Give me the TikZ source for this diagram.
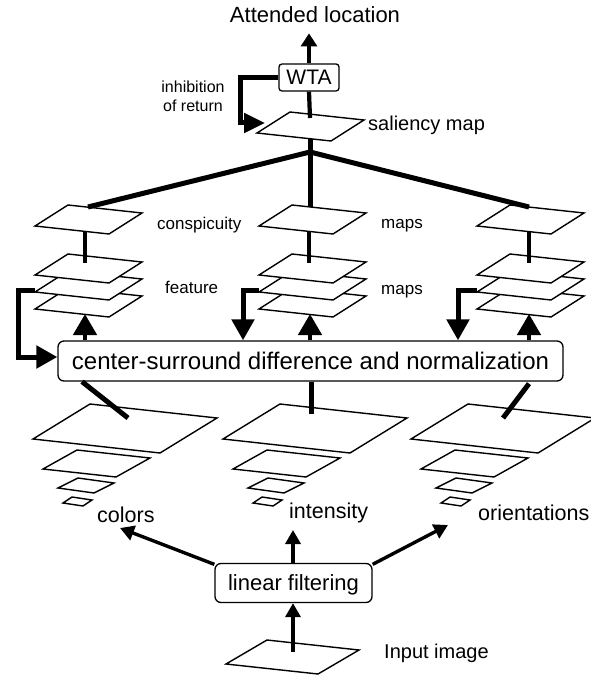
\documentclass[tikz,border=0pt]{standalone}
\usepackage{fontspec}
\setmainfont{Liberation Sans}
\usetikzlibrary{arrows.meta}
\newcommand\drawmap[6]{\draw[mapbox] (#1,#2) -- ++(#3,#4) -- ++(#5,#6) -- ({#1+#5},{#2+#6}) -- cycle;}
\begin{document}
\begin{tikzpicture}[x=1pt,y=-1pt,
  mapbox/.style={draw=black, fill=white, line width=1.4pt, line join=miter},
  thickline/.style={line width=5pt},
  medline/.style={line width=4.2pt},
  thinarrow/.style={line width=3.4pt, -{Triangle[length=13pt,width=16pt]}},
  bigarrow/.style={line width=4.5pt, -{Triangle[length=21pt,width=23pt]}},
  fbarrow/.style={line width=5pt, -{Triangle[length=21pt,width=22pt]}},
  procbox/.style={draw, line width=1.3pt, rounded corners=6pt, fill=white, inner sep=0pt},
  lbl/.style={inner sep=0pt, anchor=base west},
  fsmall/.style={font=\fontsize{17}{20}\selectfont},
  fmid/.style={font=\fontsize{20}{24}\selectfont},
  fchan/.style={font=\fontsize{21.5}{25}\selectfont},
  fbig/.style={font=\fontsize{22}{26}\selectfont},
]
\useasboundingbox (0,0) rectangle (590,676);

% ---------- pyramids ----------
\foreach \s in {0,190,378}{
  \drawmap{90+\s}{404}{127}{14}{-57}{35}
  \drawmap{77+\s}{450}{73}{8}{-34}{19}
  \drawmap{78+\s}{478}{36}{5}{-20}{10}
  \drawmap{72+\s}{497}{20}{3}{-9}{6}
}
% ---------- feature and conspicuity maps ----------
\foreach \s in {0,224,442}{
  \drawmap{68+\s}{288}{74}{8}{-33}{21}
  \drawmap{68+\s}{271}{74}{8}{-33}{21}
  \drawmap{68+\s}{254}{74}{8}{-33}{21}
  \drawmap{68+\s}{205}{74}{8}{-33}{21}
}
% saliency map and input image
\drawmap{290}{112}{74}{8}{-33}{21}
\drawmap{267}{640}{92}{10}{-41}{24}

% ---------- text nodes ----------
\node[fbig, inner sep=0pt, anchor=base] (title) at (315,23) {Attended location};
\node[procbox, rounded corners=3pt, minimum width=60pt, minimum height=27pt,
      font=\fontsize{21}{24}\selectfont] (wta) at (309,77.5) {WTA};
\node[inner sep=0pt, anchor=north, align=center, font=\fontsize{16}{19}\selectfont]
      (inh) at (193,81) {inhibition\\of return};
\node[lbl, fmid] (salt) at (368,131) {saliency map};
\node[lbl, fsmall] (consp) at (157,229) {conspicuity};
\node[lbl, fsmall] (maps1) at (381,228) {maps};
\node[lbl, fsmall] (feat) at (165,293) {feature};
\node[lbl, fsmall] (maps2) at (381,294) {maps};
\node[lbl, fchan] (colors) at (97,522) {colors};
\node[lbl, fchan] (intens) at (289,518) {intensity};
\node[lbl, fchan] (orient) at (478,520) {orientations};
\node[lbl, fmid] (input) at (384,658) {Input image};

% ---------- coordinates ----------
\coordinate (salT) at (310,118);
\coordinate (salB) at (310,139);
\coordinate (hub) at (310,152);
\coordinate (cL) at (88,207);
\coordinate (cM) at (310,207);
\coordinate (cR) at (529,207);
\coordinate (inhA) at (240,77.5);
\coordinate (inhB) at (240,123);
\coordinate (inhT) at (265,123);

% ---------- top tree ----------
\draw[thinarrow, shorten >=10pt] (wta.north) -- (wta.north |- title.south);
\draw[medline] (wta.south) -- (salT);
\draw[thickline] (salB) -- (cM);
\draw[thickline] (hub) -- (cL);
\draw[thickline] (hub) -- (cR);
\draw[fbarrow, -{Triangle[length=21pt,width=19pt]}] (wta.west) -- (inhA) -- (inhB) -- (inhT);

\foreach \x in {85,309,529}{
  \coordinate (cb) at (\x,231);
  \coordinate (ft) at (\x,263);
  \draw[medline] (cb) -- (ft);
}

% ---------- center-surround box ----------
\node[procbox, minimum width=505pt, minimum height=40pt,
      font=\fontsize{24}{28}\selectfont, text depth=0pt] (csd) at (310.5,361) {center-surround difference and normalization};

\foreach \x in {85,310,529}{
  \coordinate (ub) at (csd.north -| \x,0);
  \coordinate (ut) at (\x,314);
  \draw[bigarrow] (ub) -- (ut);
}
\coordinate (fbL1) at (35,290);
\coordinate (fbL2) at (18,290);
\coordinate (fbL3) at (18,357);
\coordinate (fbL4) at (csd.west |- fbL3);
\draw[fbarrow] (fbL1) -- (fbL2) -- (fbL3) -- (fbL4);
\coordinate (fbM1) at (259,290);
\coordinate (fbM2) at (243,290);
\coordinate (fbM3) at (csd.north -| fbM2);
\draw[fbarrow] (fbM1) -- (fbM2) -- (fbM3);
\coordinate (fbR1) at (477,290);
\coordinate (fbR2) at (458,290);
\coordinate (fbR3) at (csd.north -| fbR2);
\draw[fbarrow] (fbR1) -- (fbR2) -- (fbR3);

% box to pyramids
\coordinate (pL) at (128,418);
\coordinate (pM) at (311,414);
\coordinate (pR) at (503,418);
\draw[thickline] (csd.south -| 82,0) -- (pL);
\draw[thickline] (csd.south -| 311,0) -- (pM);
\draw[thickline] ([yshift=-2pt]csd.south -| 529,0) -- (pR);

% ---------- linear filtering ----------
\node[procbox, minimum width=157pt, minimum height=39pt, text depth=0pt,
      fbig] (lf) at (293.5,583) {linear filtering};
\coordinate (tipL) at (120,528);
\coordinate (tipM) at (293,530);
\coordinate (tipR) at (448,525);
\coordinate (inC) at (293,652);
\draw[thinarrow, -{Triangle[length=14pt,width=15pt]}] ([yshift=-1.5pt]lf.north west) -- (tipL);
\draw[thinarrow, -{Triangle[length=14pt,width=15pt]}] (lf.north -| tipM) -- (tipM);
\draw[thinarrow, -{Triangle[length=14pt,width=15pt]}] ([yshift=-1.5pt]lf.north east) -- (tipR);
\draw[thinarrow, -{Triangle[length=14pt,width=15pt]}] (inC) -- (lf.south -| inC);
\end{tikzpicture}
\end{document}
